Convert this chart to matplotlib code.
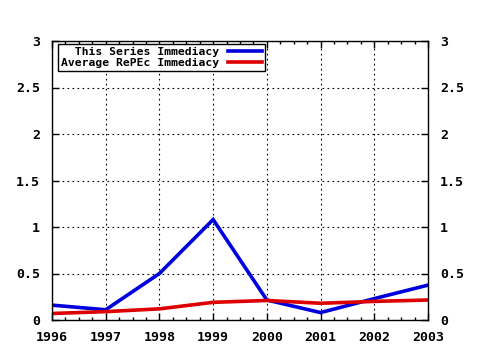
import matplotlib

matplotlib.use("Agg")
import matplotlib.pyplot as plt
from matplotlib.ticker import MultipleLocator

years = [1996, 1997, 1998, 1999, 2000, 2001, 2002, 2003]
series_immediacy = [0.16, 0.11, 0.50, 1.08, 0.215, 0.08, 0.23, 0.375]
repec_immediacy = [0.07, 0.09, 0.12, 0.19, 0.21, 0.18, 0.20, 0.215]
y_ticks = [0, 0.5, 1, 1.5, 2, 2.5, 3]
y_labels = ["0", "0.5", "1", "1.5", "2", "2.5", "3"]

plt.rcParams["font.family"] = ["DejaVu Sans Mono"]
plt.rcParams["font.weight"] = "bold"

fig = plt.figure(figsize=(4.8, 3.5), dpi=100)
ax = fig.add_axes([52 / 480, 30 / 350, 376 / 480, 279 / 350])

ax.plot(years, series_immediacy, color="#0000dd", linewidth=2.6,
        label="  This Series Immediacy", solid_joinstyle="miter")
ax.plot(years, repec_immediacy, color="#dd0000", linewidth=2.6,
        label="Average RePEc Immediacy", solid_joinstyle="miter")

ax.set_xlim(years[0], years[-1])
ax.set_ylim(0, 3)
ax.set_xticks(years)
ax.set_xticklabels([str(y) for y in years])
ax.xaxis.set_minor_locator(MultipleLocator(0.25))
ax.set_yticks(y_ticks)
ax.set_yticklabels(y_labels)

ax.grid(True, which="major", color="black", linestyle=(0, (1.5, 3)), linewidth=0.8)
ax.tick_params(axis="both", which="major", direction="in", length=5, width=1,
               top=True, right=True, labelright=True, labelsize=9.5, pad=8)
ax.tick_params(axis="x", which="minor", direction="in", length=2.5, width=1,
               top=True)
ax.tick_params(axis="x", which="major", pad=8)
ax.tick_params(axis="y", which="major", pad=8.5)
for sp in ax.spines.values():
    sp.set_linewidth(1)
    sp.set_color("black")

leg = ax.legend(loc="upper left", bbox_to_anchor=(0.016, 0.99), markerfirst=False,
                prop={"family": "DejaVu Sans Mono", "weight": "bold", "size": 8.2},
                frameon=True, fancybox=False, borderpad=0.25, labelspacing=0.15,
                handlelength=3.0, handletextpad=0.8, borderaxespad=0.0)
leg.get_frame().set_edgecolor("black")
leg.get_frame().set_linewidth(1)
leg.get_frame().set_facecolor("white")
leg.get_frame().set_alpha(1)

fig.savefig("out.png", dpi=100)
